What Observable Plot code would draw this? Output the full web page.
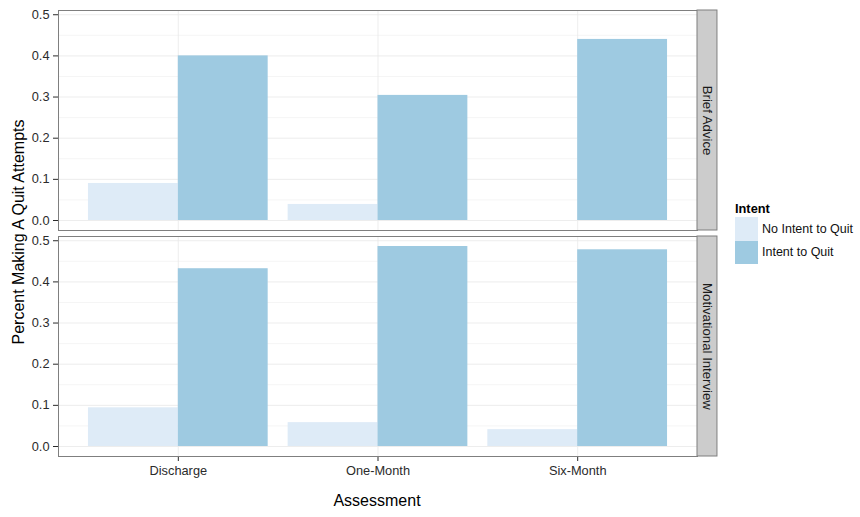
<!DOCTYPE html>
<html><head><meta charset="utf-8">
<script src="https://cdn.jsdelivr.net/npm/d3@7"></script>
<script src="https://cdn.jsdelivr.net/npm/@observablehq/plot@0.6"></script>
<style>
body{margin:0;background:#fff;font-family:"Liberation Sans",Arial,sans-serif;}
#wrap{position:relative;width:860px;height:517px;overflow:hidden;}
#chart{position:absolute;left:0;top:0;}
.ytitle{position:absolute;left:19px;top:232px;transform:translate(-50%,-50%) rotate(-90deg);font-size:16px;white-space:nowrap;color:#000;}
.xtitle{position:absolute;left:377px;top:501px;transform:translate(-50%,-50%);font-size:16px;white-space:nowrap;color:#000;}
.legend{position:absolute;left:735px;top:200px;}
.legend .lt{font-weight:bold;font-size:12.8px;height:17px;line-height:17px;}
.legend .row{display:flex;align-items:center;height:23.5px;}
.legend .key{width:23px;height:23.5px;margin-right:4px;}
.legend .lab{font-size:12.5px;color:#111;}
</style>
</head><body>
<div id="wrap">
  <div id="chart"></div>
  <div class="ytitle">Percent Making A Quit Attempts</div>
  <div class="xtitle">Assessment</div>
  <div class="legend" id="legend"></div>
</div>
<script>
const assessments = ["Discharge", "One-Month", "Six-Month"];
const interventions = ["Brief Advice", "Motivational Interview"];
const intents = ["No Intent to Quit", "Intent to Quit"];
const intentColors = ["#deebf7", "#9ecae1"];
const briefNoIntent = [0.090, 0.039, 0.0];
const briefIntent = [0.400, 0.304, 0.440];
const miNoIntent = [0.094, 0.058, 0.041];
const miIntent = [0.432, 0.486, 0.478];
const yTicks = [0, 0.1, 0.2, 0.3, 0.4, 0.5];
const yMinorTicks = [0.05, 0.15, 0.25, 0.35, 0.45];

const series = {
  "Brief Advice": [briefNoIntent, briefIntent],
  "Motivational Interview": [miNoIntent, miIntent]
};
const rows = [];
for (const panel of interventions) {
  assessments.forEach((a, i) => {
    intents.forEach((intent, k) => {
      const pos = i + 1;
      rows.push({
        panel, assessment: a, intent,
        value: series[panel][k][i],
        x1: k === 0 ? pos - 0.45 : pos,
        x2: k === 0 ? pos : pos + 0.45
      });
    });
  });
}
const maxV = d3.max(rows, d => d.value);
const yDomain = [-0.05 * maxV, maxV * 1.05];
const xDomain = [0.4, assessments.length + 0.6];

const chart = Plot.plot({
  width: 860,
  height: 517,
  marginLeft: 58,
  marginRight: 163,
  marginTop: 10,
  marginBottom: 60,
  style: {fontFamily: "Liberation Sans, Arial, sans-serif", fontSize: "12.8px", color: "#2b2b2b", background: "#fff"},
  facet: {data: rows, y: "panel"},
  fy: {domain: interventions, axis: null, paddingInner: 0.0265, paddingOuter: 0},
  x: {domain: xDomain, ticks: assessments.map((d, i) => i + 1), tickFormat: v => assessments[v - 1], tickSize: 5, label: null},
  y: {domain: yDomain, ticks: yTicks, tickFormat: d3.format(".1f"), tickSize: 5, label: null},
  color: {domain: intents, range: intentColors},
  marks: [
    Plot.ruleY(yMinorTicks, {stroke: "#f5f5f5", strokeWidth: 1}),
    Plot.ruleY(yTicks, {stroke: "#e8e8e8", strokeWidth: 0.8}),
    Plot.ruleX(assessments.map((d, i) => i + 1), {stroke: "#e8e8e8", strokeWidth: 0.8}),
    Plot.rect(rows, {x1: "x1", x2: "x2", y1: 0, y2: "value", fill: "intent"}),
    Plot.frame({stroke: "#7f7f7f"}),
    Plot.rect([0], {x1: xDomain[1], x2: xDomain[1] + 0.1, y1: yDomain[0], y2: yDomain[1], fill: "#cccccc", stroke: "#7f7f7f"}),
    Plot.text(rows, Plot.selectFirst({x: xDomain[1] + 0.05, y: (yDomain[0] + yDomain[1]) / 2, text: "panel", rotate: 90, fontSize: 13.2, fill: "#1a1a1a"}))
  ]
});
document.getElementById("chart").appendChild(chart);

const legend = document.getElementById("legend");
legend.innerHTML = `<div class="lt">Intent</div>` + intents.map((t, i) =>
  `<div class="row"><div class="key" style="background:${intentColors[i]}"></div><div class="lab">${t}</div></div>`).join("");
</script>
</body></html>
